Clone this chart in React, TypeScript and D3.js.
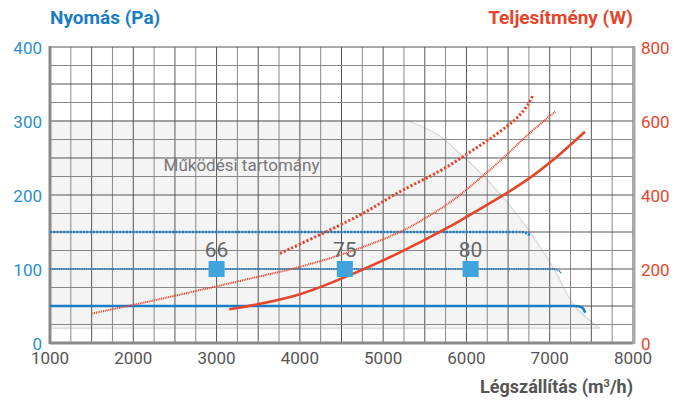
import React from "react";
import * as d3 from "d3";

const xTicks = [1000, 2000, 3000, 4000, 5000, 6000, 7000, 8000];
const pTicks = [0, 100, 200, 300, 400];
const wTicks = [0, 200, 400, 600, 800];

// Operating range boundary (flow, Pa)
const rangeCurve: [number, number][] = [
  [5300, 300], [5650, 282], [5910, 257], [6150, 232], [6400, 202], [6750, 152],
  [7050, 100], [7300, 50], [7600, 20],
];
const rangeLeft: [number, number][] = [[1000, 20], [1000, 300]];

// Pressure curves (flow, Pa)
const pressSolid: [number, number][] = [[1000, 50], [7300, 50], [7370, 49], [7405, 46], [7425, 41]];
const pressFine: [number, number][] = [[1000, 100], [7040, 100], [7100, 98.5], [7140, 94]];
const pressDot: [number, number][] = [[1000, 150], [6650, 150], [6720, 148.5], [6770, 145]];

// Power curves (flow, W)
const powerSolid: [number, number][] = [
  [3153, 91], [3482, 104], [4002, 132], [4521, 176], [5202, 245], [5802, 315], [6083, 352],
  [6483, 405], [6803, 453], [7043, 495], [7423, 571],
];
const powerFine: [number, number][] = [
  [1510, 80], [2000, 103], [2801, 143], [3401, 174], [4002, 206], [4602, 247], [5202, 300],
  [5562, 345], [5802, 380], [6003, 415], [6403, 492], [6723, 560], [7075, 627],
];
const powerDot: [number, number][] = [
  [3761, 242], [4722, 346], [5202, 409], [5682, 465], [6003, 510], [6243, 546], [6483, 585],
  [6623, 612], [6743, 646], [6795, 668],
];

// Efficiency markers
const markerFlow = [3000, 4540, 6050];
const markerLabel = ["66", "75", "80"];
const markerP = 100;

const BLUE = "#1a7cc7";
const RED = "#e5452a";
const FONT = "'Liberation Sans Narrow', Roboto, 'Noto Sans', sans-serif";

export default function App() {
  const L = 50, R = 633, T = 47, B = 343;
  const x = d3.scaleLinear().domain([1000, 8000]).range([L, R]);
  const yP = d3.scaleLinear().domain([0, 400]).range([B, T]);
  const yW = d3.scaleLinear().domain([0, 800]).range([B, T]);

  const lineP = d3.line<[number, number]>().x(d => x(d[0])).y(d => yP(d[1])).curve(d3.curveMonotoneX);
  const lineW = d3.line<[number, number]>().x(d => x(d[0])).y(d => yW(d[1])).curve(d3.curveCatmullRom.alpha(0.5));
  const linePlain = d3.line<[number, number]>().x(d => x(d[0])).y(d => yP(d[1]));

  const boundaryPath = d3.line<[number, number]>().x(d => x(d[0])).y(d => yP(d[1])).curve(d3.curveCatmullRom)(rangeCurve) || "";
  const leftPart = rangeLeft.map(d => `L${x(d[0])},${yP(d[1])}`).join("");
  const areaPath = boundaryPath + leftPart + "Z";
  const topEdge = linePlain([[1000, 300], [5300, 300]]);
  const botEdge = linePlain([[1000, 20], [7600, 20]]);

  const vGrid = d3.range(1000, 8001, 250);
  const hGrid = d3.range(0, 401, 25);

  return (
    <svg width={680} height={401} style={{ position: "absolute", left: 0, top: 0, background: "#fff" }}>
      {/* operating range */}
      <path d={areaPath} fill="#f4f4f4" />
      <path d={boundaryPath} fill="none" stroke="#d6d6d6" strokeWidth={1.2} />
      <path d={topEdge || ""} stroke="#dcdcdc" strokeWidth={1} />
      <path d={botEdge || ""} stroke="#d6d6d6" strokeWidth={1.2} />

      {/* grid */}
      {vGrid.map((v, i) => (
        <line key={"v" + v} x1={x(v)} x2={x(v)} y1={T} y2={B}
          stroke={i % 2 === 0 ? "#555" : "#888"} strokeWidth={1} />
      ))}
      {hGrid.map((v, i) => (
        <line key={"h" + v} x1={L} x2={R} y1={yP(v)} y2={yP(v)}
          stroke={i % 2 === 0 ? "#555" : "#888"} strokeWidth={1} />
      ))}
      {/* frame */}
      <line x1={L} x2={L} y1={T - 1} y2={B + 1} stroke="#8a8a8a" strokeWidth={3} />
      <line x1={L} x2={R} y1={B} y2={B} stroke="#8a8a8a" strokeWidth={3} />
      <line x1={R + 1} x2={R + 1} y1={T - 1} y2={B + 1} stroke="#a8a8a8" strokeWidth={3} />

      <text x={x(3300)} y={yP(233)} fontFamily={FONT} fontSize={17} fill="#777" textAnchor="middle">
        Működési tartomány
      </text>

      {/* pressure lines */}
      <path d={lineP(pressSolid) || ""} fill="none" stroke={BLUE} strokeWidth={2.6} />
      <path d={lineP(pressFine) || ""} fill="none" stroke={BLUE} strokeWidth={2} strokeDasharray="1,0.8" />
      <path d={lineP(pressDot) || ""} fill="none" stroke={BLUE} strokeWidth={2.6} strokeDasharray="2,1.3" />

      {/* power lines */}
      <path d={lineW(powerSolid) || ""} fill="none" stroke={RED} strokeWidth={2.6} />
      <path d={lineW(powerFine) || ""} fill="none" stroke={RED} strokeWidth={2} strokeDasharray="1,0.8" />
      <path d={lineW(powerDot) || ""} fill="none" stroke={RED} strokeWidth={3} strokeDasharray="2.2,2" />

      {/* markers */}
      {markerFlow.map((f, i) => (
        <g key={"m" + i}>
          <rect x={x(f) - 8} y={yP(markerP) - 8} width={16} height={16} fill="#3fa3dd" />
          <text x={x(f)} y={yP(markerP) - 12} fontFamily={FONT} fontSize={21} fill="#666" textAnchor="middle">
            {markerLabel[i]}
          </text>
        </g>
      ))}

      {/* axes labels */}
      {pTicks.map(t => (
        <text key={"p" + t} x={42} y={yP(t) + 7} fontFamily={FONT} fontSize={17} fill="#2a8fd0" textAnchor="end">{t}</text>
      ))}
      {wTicks.map(t => (
        <text key={"w" + t} x={641} y={yW(t) + 7} fontFamily={FONT} fontSize={17} fill={RED} textAnchor="start">{t}</text>
      ))}
      {xTicks.map(t => (
        <text key={"x" + t} x={x(t)} y={364} fontFamily={FONT} fontSize={17} fill="#555" textAnchor="middle">{t}</text>
      ))}

      <text x={50} y={24} fontFamily={FONT} fontSize={19} fontWeight="bold" fill={BLUE}>Nyomás (Pa)</text>
      <text x={633} y={24} fontFamily={FONT} fontSize={19} fontWeight="bold" fill={RED} textAnchor="end">Teljesítmény (W)</text>
      <text x={633} y={393} fontFamily={FONT} fontSize={18} fontWeight="bold" fill="#555" textAnchor="end">
        Légszállítás (m<tspan fontSize={11} dy={-6}>3</tspan><tspan dy={6}>/h)</tspan>
      </text>
    </svg>
  );
}
